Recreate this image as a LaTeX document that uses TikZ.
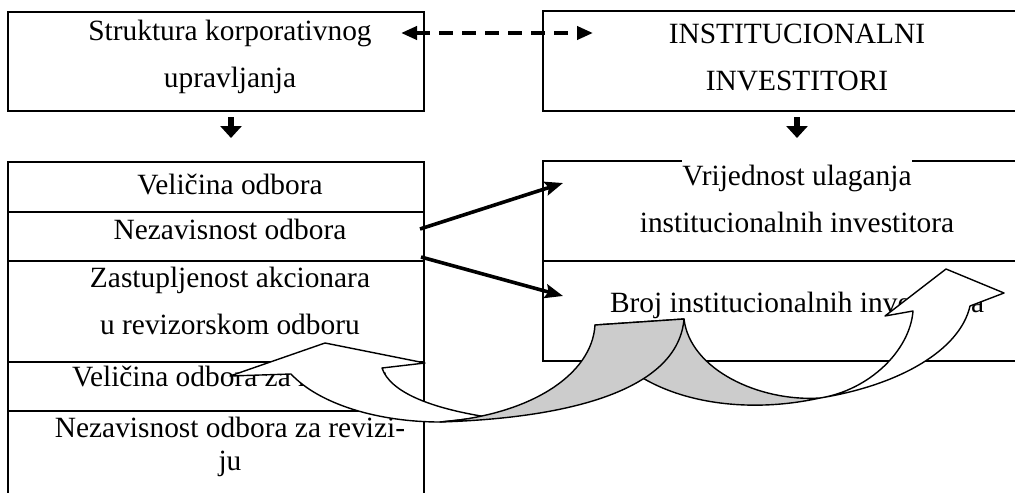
\documentclass[tikz,border=0pt]{standalone}
\usepackage{fontspec}
\setmainfont{Liberation Serif}
\usetikzlibrary{arrows.meta}

\tikzset{
  okvir/.style={line width=1pt},
  natpis/.style={font=\fontsize{14.7}{23.5}\selectfont, align=center, inner sep=0pt},
  veza/.style={line width=1.9pt, dash pattern=on 7pt off 4.5pt,
    {Triangle[length=8pt,width=6.5pt]}-{Triangle[length=8pt,width=6.5pt]}},
  dolje/.style={line width=3pt, -{Triangle[length=6pt,width=10.5pt]}},
  uticaj/.style={line width=1.8pt, -{Stealth[length=9pt,width=7pt,inset=1.5pt]}},
  luk/.style={line width=0.7pt, line join=round, fill=white},
  nalicje/.style={luk, fill=gray!40}
}

\begin{document}
\begin{tikzpicture}[x=0.5pt, y=-0.5pt]
  \useasboundingbox (0,0) rectangle (1015,492);

  \draw[okvir] (8,12) rectangle (424,111);
  \draw[okvir] (543,11) rectangle (1051,111);
  \node[natpis] (struktura) at (230,57) {Struktura korporativnog\\upravljanja};
  \node[natpis] (investitori) at (797,57.5) {INSTITUCIONALNI\\INVESTITORI};

  \coordinate (vezaL) at (401,33);
  \coordinate (vezaD) at (593,33);
  \draw[veza] (vezaL) -- (vezaD);

  \coordinate (dolje1) at (231,117);
  \coordinate (dolje1kraj) at (231,138);
  \coordinate (dolje2) at (797,117);
  \coordinate (dolje2kraj) at (797,138);
  \draw[dolje] (dolje1) -- (dolje1kraj);
  \draw[dolje] (dolje2) -- (dolje2kraj);

  % lijeva tabela
  \draw[okvir] (8,162) rectangle (424,520);
  \foreach \y in {212,261,362,411}
    \draw[okvir] (8,\y) -- (424,\y);
  \node[natpis] (velicina) at (230,184) {Veličina odbora};
  \node[natpis] (nezavisnost) at (230,229) {Nezavisnost odbora};
  \node[natpis] (zastupljenost) at (230,301) {Zastupljenost akcionara\\u revizorskom odboru};
  \node[natpis] (velicinarev) at (230,379) {Veličina odbora za reviziju};
  \node[natpis, font=\fontsize{14.7}{16.5}\selectfont] (nezavisnostrev) at (230,447) {Nezavisnost odbora za revizi-\\ju};

  % desna tabela
  \draw[okvir] (543,161) rectangle (1051,361);
  \draw[okvir] (543,261) -- (1051,261);
  \fill[white] (682,158) rectangle (912,165);
  \node[natpis] (vrijednost) at (797,199) {Vrijednost ulaganja\\institucionalnih investitora};
  \node[natpis] (broj) at (797,305.5) {Broj institucionalnih investitora};

  \coordinate (iz1) at (420,229);
  \coordinate (u1) at (563,183);
  \coordinate (iz2) at (421,257);
  \coordinate (u2) at (563,296);
  \draw[uticaj] (iz1) -- (u1);
  \draw[uticaj] (iz2) -- (u2);

  % zakrivljene strelice
  \draw[nalicje] (595,325) .. controls (620,390) and (720,420) .. (820,398)
    .. controls (760,402) and (690,370) .. (684,319) -- cycle;
  \draw[luk] (820,398) .. controls (900,385) and (960,350) .. (970,306)
    -- (1004,293) -- (946,269) -- (885,316) -- (913,311)
    .. controls (910,350) and (870,390) .. (820,398) -- cycle;
  \draw[luk] (487,417) .. controls (430,408) and (390,392) .. (382,368)
    -- (425,363) -- (325,343) -- (230,376) -- (291,374)
    .. controls (320,405) and (380,422) .. (440,422) -- cycle;
  \draw[nalicje] (595,325) .. controls (592,375) and (530,415) .. (440,422)
    .. controls (570,418) and (678,390) .. (684,319) -- cycle;
\end{tikzpicture}
\end{document}
